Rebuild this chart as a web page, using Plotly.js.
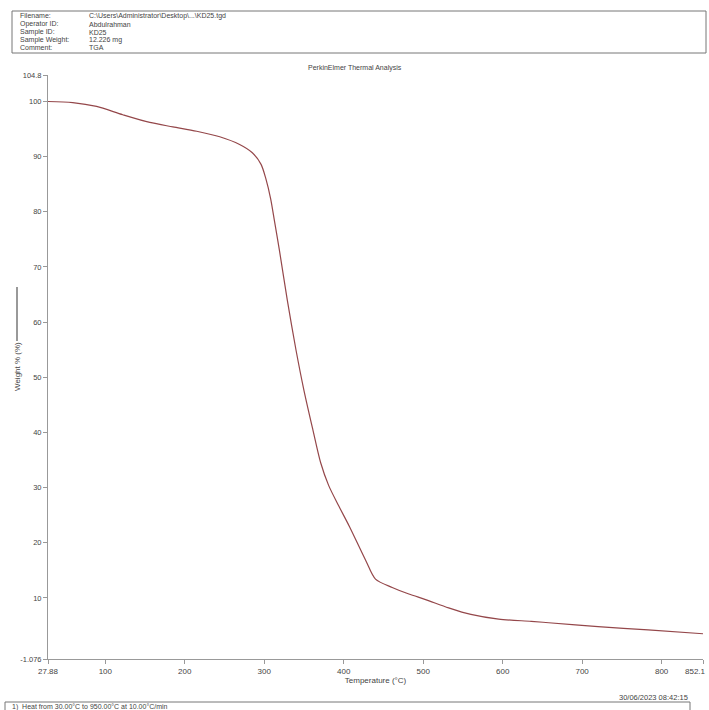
<!DOCTYPE html>
<html>
<head>
<meta charset="utf-8">
<script src="https://cdn.plot.ly/plotly-3.0.1.min.js"></script>
<style>html,body{margin:0;padding:0;background:#fff;}#chart{width:709px;height:710px;}</style>
</head>
<body>
<div id="chart"></div>
<script>
// Temperature (°C) and weight (%)
const temperature = [27.88, 59, 89, 122, 156, 185, 215, 244, 269, 285, 296, 302, 308, 313, 319, 329, 340, 350, 361, 371, 381, 394, 407, 428, 440, 461, 482, 503, 532, 560, 595, 636, 658, 720, 783, 852.1];
const weightPct   = [100, 99.8, 99.1, 97.6, 96.2, 95.4, 94.6, 93.6, 92.2, 90.7, 88.6, 86.0, 82.4, 78.2, 73.1, 64.0, 54.9, 47.6, 40.6, 34.5, 30.4, 26.6, 23.0, 16.7, 13.4, 11.9, 10.7, 9.7, 8.2, 7.0, 6.15, 5.75, 5.5, 4.8, 4.2, 3.5];

const xTickVals = [27.88, 100, 200, 300, 400, 500, 600, 700, 800, 852.1];
const xTickText = ["27.88", "100", "200", "300", "400", "500", "600", "700", "800", ""];
const xEndLabel = "852.1";
const yTickVals = [-1.076, 10, 20, 30, 40, 50, 60, 70, 80, 90, 100, 104.8];
const yTickText = ["-1.076", "10", "20", "30", "40", "50", "60", "70", "80", "90", "100", "104.8"];

const headerLabels = ["Filename:", "Operator ID:", "Sample ID:", "Sample Weight:", "Comment:"];
const headerValues = ["C:\\Users\\Administrator\\Desktop\\...\\KD25.tgd", "Abdulrahman", "KD25", "12.226 mg", "TGA"];

// plot area in pixels
const W = 709, H = 710;
const L = 48, R = 703, T = 75, B = 659;
const px = x => (x - L) / (R - L);
const py = y => (B - y) / (B - T);

const font = "Liberation Sans, Arial, sans-serif";
const annotations = [];
const shapes = [];

const headerY = [16, 24, 32, 40, 48];
headerLabels.forEach((lab, i) => {
  annotations.push({xref:'paper', yref:'paper', x:px(18), y:py(headerY[i]), text:lab, showarrow:false, xanchor:'left', yanchor:'middle', font:{family:font, size:7, color:'#444'}});
  annotations.push({xref:'paper', yref:'paper', x:px(87), y:py(headerY[i]), text:headerValues[i], showarrow:false, xanchor:'left', yanchor:'middle', font:{family:font, size:7, color:'#444'}});
});
shapes.push({type:'rect', xref:'paper', yref:'paper', x0:px(12), x1:px(706), y0:py(53), y1:py(11), line:{color:'#777', width:1}, fillcolor:'rgba(0,0,0,0)'});

annotations.push({xref:'paper', yref:'paper', x:px(355), y:py(68), text:'PerkinElmer Thermal Analysis', showarrow:false, xanchor:'center', yanchor:'middle', font:{family:font, size:7, color:'#444'}});

// y title with legend line
annotations.push({xref:'paper', yref:'paper', x:px(17), y:py(367), text:'Weight % (%)', textangle:-90, showarrow:false, xanchor:'center', yanchor:'middle', font:{family:font, size:8, color:'#444'}});
shapes.push({type:'line', xref:'paper', yref:'paper', x0:px(17), x1:px(17), y0:py(287), y1:py(341), line:{color:'#555', width:1.2}});

// last x tick label, kept inside the page edge
annotations.push({xref:'paper', yref:'paper', x:px(708), y:py(671.5), text:xEndLabel, showarrow:false, xanchor:'right', yanchor:'middle', font:{family:font, size:8, color:'#444'}});

annotations.push({xref:'paper', yref:'paper', x:px(690), y:py(697), text:'30/06/2023 08:42:15', showarrow:false, xanchor:'right', yanchor:'middle', font:{family:font, size:7.5, color:'#444'}});
shapes.push({type:'rect', xref:'paper', yref:'paper', x0:px(5), x1:px(690), y0:py(712), y1:py(702), line:{color:'#777', width:1}, fillcolor:'rgba(0,0,0,0)'});
annotations.push({xref:'paper', yref:'paper', x:px(10), y:py(706.5), text:'1)  Heat from 30.00°C to 950.00°C at 10.00°C/min', showarrow:false, xanchor:'left', yanchor:'middle', font:{family:font, size:7, color:'#444'}});

const trace = {
  x: temperature, y: weightPct, type:'scatter', mode:'lines',
  line:{color:'#94474a', width:1.2, shape:'spline', smoothing:0.8},
  hoverinfo:'skip'
};

const layout = {
  width:W, height:H,
  margin:{l:L, r:W-R, t:T, b:H-B, pad:0},
  paper_bgcolor:'#fff', plot_bgcolor:'#fff',
  showlegend:false,
  xaxis:{range:[27.88, 852.1], tickvals:xTickVals, ticktext:xTickText, showgrid:false, zeroline:false,
         showline:true, linecolor:'#999', linewidth:1, ticks:'outside', ticklen:4, tickcolor:'#999',
         tickfont:{family:font, size:8, color:'#444'},
         title:{text:'Temperature (°C)', font:{family:font, size:8, color:'#444'}, standoff:2}},
  yaxis:{range:[-1.076, 104.8], tickvals:yTickVals, ticktext:yTickText, showgrid:false, zeroline:false,
         showline:true, linecolor:'#999', linewidth:1, ticks:'outside', ticklen:4, tickcolor:'#999',
         tickfont:{family:font, size:7.5, color:'#444'}},
  annotations:annotations, shapes:shapes
};

Plotly.newPlot('chart', [trace], layout, {staticPlot:true, displayModeBar:false});
</script>
</body>
</html>
